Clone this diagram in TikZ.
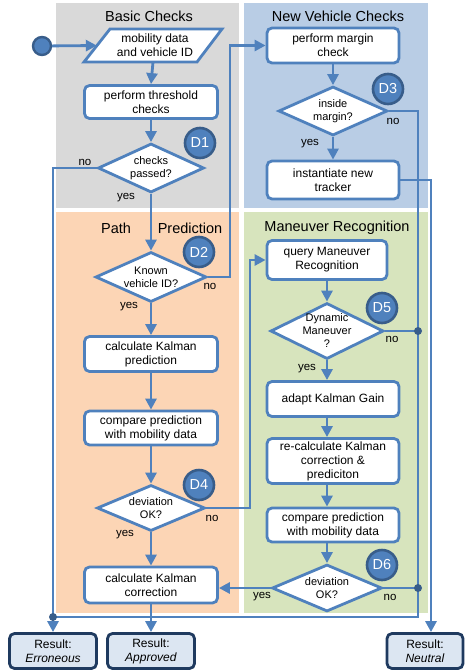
\documentclass[tikz,border=0pt]{standalone}
\usepackage{fontspec}
\setmainfont{Liberation Sans}
\usetikzlibrary{arrows.meta,shapes.geometric,calc}
\definecolor{lineblue}{HTML}{4F81BD}
\definecolor{darkblue}{HTML}{385D8A}
\definecolor{resborder}{HTML}{1F3A5F}
\definecolor{resfill}{HTML}{DCE6F2}
\definecolor{pgray}{HTML}{D9D9D9}
\definecolor{pblue}{HTML}{B9CDE5}
\definecolor{ppeach}{HTML}{FCD5B5}
\definecolor{pgreen}{HTML}{D7E4BD}
\begin{document}
\begin{tikzpicture}[x=1pt,y=-1pt,
  flow/.style={draw=lineblue,line width=2.8pt,fill=white,rounded corners=5pt,inner sep=0pt,align=center,font=\fontsize{12}{14}\selectfont},
  dia/.style={diamond,draw=lineblue,line width=2.8pt,fill=white,inner sep=0pt},
  diatext/.style={align=center,font=\fontsize{11}{13}\selectfont,inner sep=0pt},
  res/.style={draw=resborder,fill=resfill,line width=2.8pt,rounded corners=5pt,inner sep=0pt,align=center,font=\fontsize{12}{14}\selectfont,minimum height=35pt},
  conn/.style={draw=lineblue,line width=2.8pt},
  arr/.style={conn,-{Triangle[length=11pt,width=11pt]}},
  dlabel/.style={circle,fill=lineblue,draw=darkblue,line width=2.6pt,minimum size=30pt,inner sep=0pt,text=white,font=\fontsize{14.5}{16}\selectfont},
  yn/.style={font=\fontsize{11.5}{13}\selectfont,inner sep=0pt},
  ttl/.style={font=\fontsize{14.5}{17}\selectfont,inner sep=0pt},
  jdot/.style={circle,fill=darkblue,inner sep=0pt,minimum size=8pt}
]
\useasboundingbox (0,0) rectangle (465,670);
% panels
\fill[pgray]  (56,3)   rectangle (239,208);
\fill[pblue]  (244,3)  rectangle (428,208);
\fill[ppeach] (56,212) rectangle (239,613);
\fill[pgreen] (244,212) rectangle (428,613);
% titles
\node[ttl] (t1) at (149,16) {Basic Checks};
\node[ttl] (t2) at (338,16) {New Vehicle Checks};
\node[ttl] (t3a) at (116,228) {Path};
\node[ttl] (t3b) at (190,228) {Prediction};
\node[ttl] (t4) at (337,228) {Maneuver Recognition};
% start and input
\node[circle,fill=lineblue,draw=darkblue,line width=2.4pt,minimum size=18pt,inner sep=0pt] (start) at (42,46) {};
\node[inner sep=0pt,minimum width=112pt,minimum height=33pt] (par) at (153,45.5) {};
\draw[draw=lineblue,line width=2.8pt,fill=white]
  ([shift={(-43,-16.5)}]par.center) -- ([shift={(69,-16.5)}]par.center) --
  ([shift={(44,16.5)}]par.center) -- ([shift={(-69,16.5)}]par.center) -- cycle;
\node[align=center,font=\fontsize{12}{14}\selectfont,inner sep=0pt] (part) at ([xshift=2pt]par.center) {mobility data\\and vehicle ID};
% left column
\node[flow,minimum width=133pt,minimum height=33pt] (thr) at (151,102) {perform threshold\\checks};
\node[dia,minimum width=106pt,minimum height=49pt] (d1) at (151,168) {};
\node[diatext] (d1t) at (d1) {checks\\passed?};
\node[dia,minimum width=111pt,minimum height=50pt] (d2) at (151,277) {};
\node[diatext] (d2t) at (d2) {Known\\vehicle ID?};
\node[flow,minimum width=133pt,minimum height=35pt] (pred) at (151,354) {calculate Kalman\\prediction};
\node[flow,minimum width=133pt,minimum height=34pt] (cmp1) at (151,428) {compare prediction\\with mobility data};
\node[dia,minimum width=108pt,minimum height=46pt] (d4) at (151,508) {};
\node[diatext] (d4t) at (d4) {deviation\\OK?};
\node[flow,minimum width=133pt,minimum height=36pt] (corr) at (151,585) {calculate Kalman\\correction};
% right column
\node[flow,minimum width=132pt,minimum height=35pt] (marg) at (333,45.5) {perform margin\\check};
\node[dia,minimum width=109pt,minimum height=49pt] (d3) at (333,111) {};
\node[diatext] (d3t) at (d3) {inside\\margin?};
\node[flow,minimum width=132pt,minimum height=38pt] (inst) at (333,180) {instantiate new\\tracker};
\node[flow,minimum width=120pt,minimum height=39pt] (query) at (327,260) {query Maneuver\\Recognition};
\node[dia,minimum width=113pt,minimum height=56pt] (d5) at (327,331) {};
\node[diatext] (d5t) at (d5) {Dynamic\\Maneuver\\?};
\node[flow,minimum width=132pt,minimum height=35pt] (adapt) at (333,399) {adapt Kalman Gain};
\node[flow,minimum width=132pt,minimum height=45pt] (recalc) at (333,461) {re-calculate Kalman\\correction \&\\prediciton};
\node[flow,minimum width=132pt,minimum height=34pt] (cmp2) at (333,525) {compare prediction\\with mobility data};
\node[dia,minimum width=110pt,minimum height=47pt] (d6) at (327,588) {};
\node[diatext] (d6t) at (d6) {deviation\\OK?};
% results
\node[res,minimum width=87pt] (err) at (53,651) {Result:\\\textit{Erroneous}};
\node[res,minimum width=87pt] (app) at (151,651) {Result:\\\textit{Approved}};
\node[res,minimum width=76pt] (neu) at (425,651) {Result:\\\textit{Neutral}};
% D labels
\node[dlabel] (D1) at (200,143) {D1};
\node[dlabel] (D2) at (199,252) {D2};
\node[dlabel] (D3) at (388,89) {D3};
\node[dlabel] (D4) at (199,485) {D4};
\node[dlabel] (D5) at (382,308) {D5};
\node[dlabel] (D6) at (382,565) {D6};
% yes/no labels
\node[yn] (n1) at (85,162) {no};
\node[yn] (y1) at (126,198) {yes};
\node[yn] (n2) at (210,286) {no};
\node[yn] (y2) at (129,307) {yes};
\node[yn] (n3) at (393,121) {no};
\node[yn] (y3) at (310,144) {yes};
\node[yn] (n4) at (212,518) {no};
\node[yn] (y4) at (125,535) {yes};
\node[yn] (n5) at (392,339) {no};
\node[yn] (y5) at (307,369) {yes};
\node[yn] (y6) at (262,597) {yes};
\node[yn] (n6) at (390,597) {no};
% junction coordinates
\coordinate (jerr) at (53,617);
\coordinate (j5) at (418,331);
\coordinate (j6) at (418,588);
\coordinate (jbr) at (418,617);
% connectors
\draw[arr] (start) -- (par.west);
\draw[arr] (par.south) -- (thr.north);
\draw[arr] (thr.south) -- (d1.north);
\draw[arr] (d1.west) -| (err.north);
\draw[arr] (d1.south) -- (d2.north);
\draw[arr] (d2.east) -- (230,277) |- (marg.west);
\draw[arr] (d2.south) -- (pred.north);
\draw[arr] (pred.south) -- (cmp1.north);
\draw[arr] (cmp1.south) -- (d4.north);
\draw[arr] (d4.south) -- (corr.north);
\draw[arr] (corr.south) -- (app.north);
\draw[arr] (d4.east) -- (250,508) |- (query.west);
\draw[arr] (marg.south) -- (d3.north);
\draw[arr] (d3.south) -- (inst.north);
\draw[conn] (d3.east) -| (jbr) -- (jerr);
\draw[arr] (inst.east) -| ([xshift=6pt]neu.north);
\draw[arr] (query.south) -- (d5.north);
\draw[arr] (d5.south) -- (d5.south |- adapt.north);
\draw[arr] (d5.south |- adapt.south) -- (d5.south |- recalc.north);
\draw[arr] (d5.south |- recalc.south) -- (d5.south |- cmp2.north);
\draw[arr] (d5.south |- cmp2.south) -- (d6.north);
\draw[conn] (d5.east) -- (j5);
\draw[conn] (d6.east) -- (j6);
\draw[arr] (d6.west) -- (d6.west -| corr.east);
% junction dots
\node[jdot] (dj5) at (j5) {};
\node[jdot] (dj6) at (j6) {};
\node[jdot] (djerr) at (jerr) {};
\end{tikzpicture}
\end{document}
